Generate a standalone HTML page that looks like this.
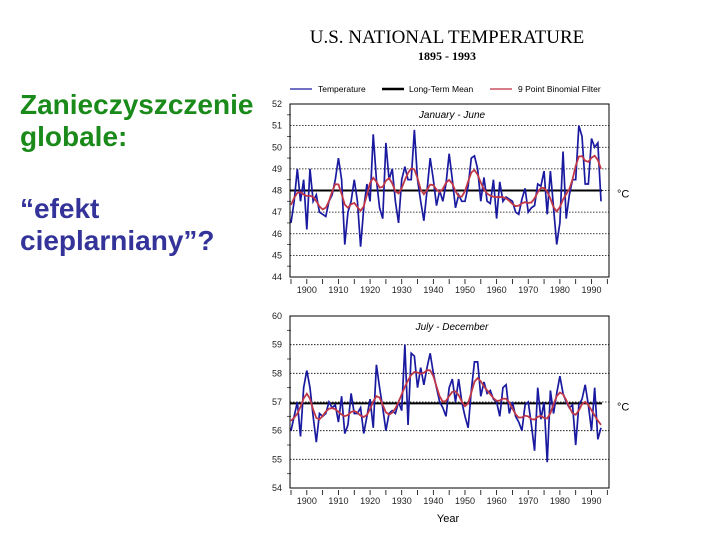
<!DOCTYPE html>
<html><head><meta charset="utf-8"><style>
body{margin:0;width:720px;height:540px;background:#fff;overflow:hidden;position:relative;font-family:"Liberation Sans",sans-serif}
.t{position:absolute;left:20px;font-weight:bold;font-size:28px;line-height:32px}
</style></head><body>
<div class="t" style="top:89px;color:#1a8a1a">Zanieczyszczenie<br>globale:</div>
<div class="t" style="top:193px;color:#333399">“efekt<br>cieplarniany”?</div>
<svg id="c" width="720" height="540" style="position:absolute;left:0;top:0">
<text x="447" y="43" text-anchor="middle" font-family="Liberation Serif" font-size="19">U.S. NATIONAL TEMPERATURE</text>
<text x="447" y="60" text-anchor="middle" font-family="Liberation Serif" font-weight="bold" font-size="12">1895 - 1993</text>
<g font-size="8.5">
<line x1="290" y1="89" x2="312" y2="89" stroke="#1a1aa0" stroke-width="1.2"/><text x="318" y="92">Temperature</text>
<line x1="382" y1="89" x2="404" y2="89" stroke="#000" stroke-width="2.5"/><text x="409" y="92">Long-Term Mean</text>
<line x1="490" y1="89" x2="512" y2="89" stroke="#c03040" stroke-width="1.2"/><text x="518" y="92">9 Point Binomial Filter</text>
</g>
<text x="448" y="522" text-anchor="middle" font-size="11">Year</text>
</svg>
<script>
const years=[];for(let y=1895;y<=1993;y++)years.push(y);
const janJun=[46.5,47.5,49,47.5,48.5,46.2,49,47.5,47.8,47,46.9,46.8,47.5,47.8,48.5,49.5,48.5,45.5,47,47.5,48.5,47.5,45.4,47.2,48.3,47.5,50.6,48.5,47.2,46.7,50.2,48.5,49,47.5,46.5,48.5,49.1,48.5,48.5,50.8,48.5,47.5,46.6,48,49.5,48.5,47.3,48,47.5,48.3,49.7,48.5,47.2,47.8,47.5,47.5,48.2,49.5,49.6,49,47.5,48.6,47.5,47.4,48.5,46.7,48.4,47.5,47.7,47.6,47.5,47,46.9,47.6,48.1,47,47.2,47.3,48.3,48.2,48.9,46.9,48.9,47.2,45.5,46.5,49.8,46.7,47.8,48.5,48.5,51,50.5,48.3,48.3,50.4,50,50.2,47.5];
const julDec=[56,56.5,57,55.8,57.5,58.1,57.5,56.5,55.6,56.6,56.5,56.6,57,56.8,56.9,56.3,57.2,55.9,56.2,57.3,56.6,56.6,56.8,55.9,56.5,57.1,56.1,58.3,57.5,56.8,56,56.6,56.7,56.6,57,56.7,59,56.2,58.7,58.6,57.5,58.2,57.6,58.2,58.7,58,57.5,57,56.8,56.5,57.5,57.8,57,57.8,57,56.5,56.1,57.4,58.4,58.4,57.2,57.7,57.3,57.4,57.1,57,56.5,57.5,57.6,56.6,57,56.5,56.3,56,56.9,57,56.2,55.3,57.5,56.4,57,54.9,57.4,56.6,57.3,57.9,57.3,57,56.8,56.9,55.5,56.9,57.1,57.6,56.9,56,57.5,55.7,56.1];
const meanJan=48.0, meanJul=56.95;
const xTicks=[1900,1910,1920,1930,1940,1950,1960,1970,1980,1990];
const NS='http://www.w3.org/2000/svg',svg=document.getElementById('c');
function mk(t,a,p){const e=document.createElementNS(NS,t);for(const k in a)e.setAttribute(k,a[k]);(p||svg).appendChild(e);return e;}
function filt(d){const w=[1,8,28,56,70,56,28,8,1];return d.map((_,i)=>{let s=0,ws=0;for(let k=-4;k<=4;k++){const j=i+k;if(j>=0&&j<d.length){s+=d[j]*w[k+4];ws+=w[k+4];}}return s/ws;});}
function chart(o){
 const x=v=>290+(v-1895)*(310/98)+1, y=v=>o.top+(o.max-v)*(o.bot-o.top)/(o.max-o.min);
 const g=mk('g',{});
 for(let v=o.min;v<=o.max;v++){
  if(v>o.min&&v<o.max){const l=mk('line',{x1:290,x2:609,y1:y(v),y2:y(v),stroke:'#000','stroke-width':0.8,'stroke-dasharray':'1.5,1.5'},g);}
  const t=mk('text',{x:272,y:y(v)+3,'font-size':9,fill:'#222'},g);t.textContent=v;
  if(v<o.max)mk('line',{x1:287,x2:291,y1:y(v+0.5),y2:y(v+0.5),stroke:'#333','stroke-width':0.8},g);
 }
 const f=mk('rect',{x:290,y:o.top,width:319,height:o.bot-o.top,fill:'none',stroke:'#000','stroke-width':1},g);
 for(let yr=1895;yr<=1995;yr+=5)mk('line',{x1:x(yr),x2:x(yr),y1:o.bot+2,y2:o.bot+7,stroke:'#000','stroke-width':0.8},g);
 xTicks.forEach(yr=>{const t=mk('text',{x:x(yr),y:o.bot+16,'font-size':9,'text-anchor':'middle',fill:'#222'},g);t.textContent=yr;});
 const ml=mk('line',{x1:290,x2:602,y1:y(o.mean),y2:y(o.mean),stroke:'#000','stroke-width':2},g);
 const tl=mk('polyline',{points:o.data.map((v,i)=>x(years[i])+','+y(v)).join(' '),fill:'none',stroke:'#1a1aa0','stroke-width':1.7},g);
 const fl=mk('polyline',{points:filt(o.data).map((v,i)=>x(years[i])+','+y(v)).join(' '),fill:'none',stroke:'#c03848','stroke-width':1.8},g);
 const st=mk('text',{x:452,y:o.top+14,'font-size':10,'font-style':'italic','text-anchor':'middle'},g);st.textContent=o.label;
 const u=mk('text',{x:617,y:y(o.mean)+7,'font-size':11},g);u.textContent='°C';
}
chart({name:'jan-jun-panel',top:104,bot:277,min:44,max:52,data:janJun,mean:meanJan,label:'January - June'});
chart({name:'jul-dec-panel',top:316,bot:488,min:54,max:60,data:julDec,mean:meanJul,label:'July - December'});
</script>
</body></html>
